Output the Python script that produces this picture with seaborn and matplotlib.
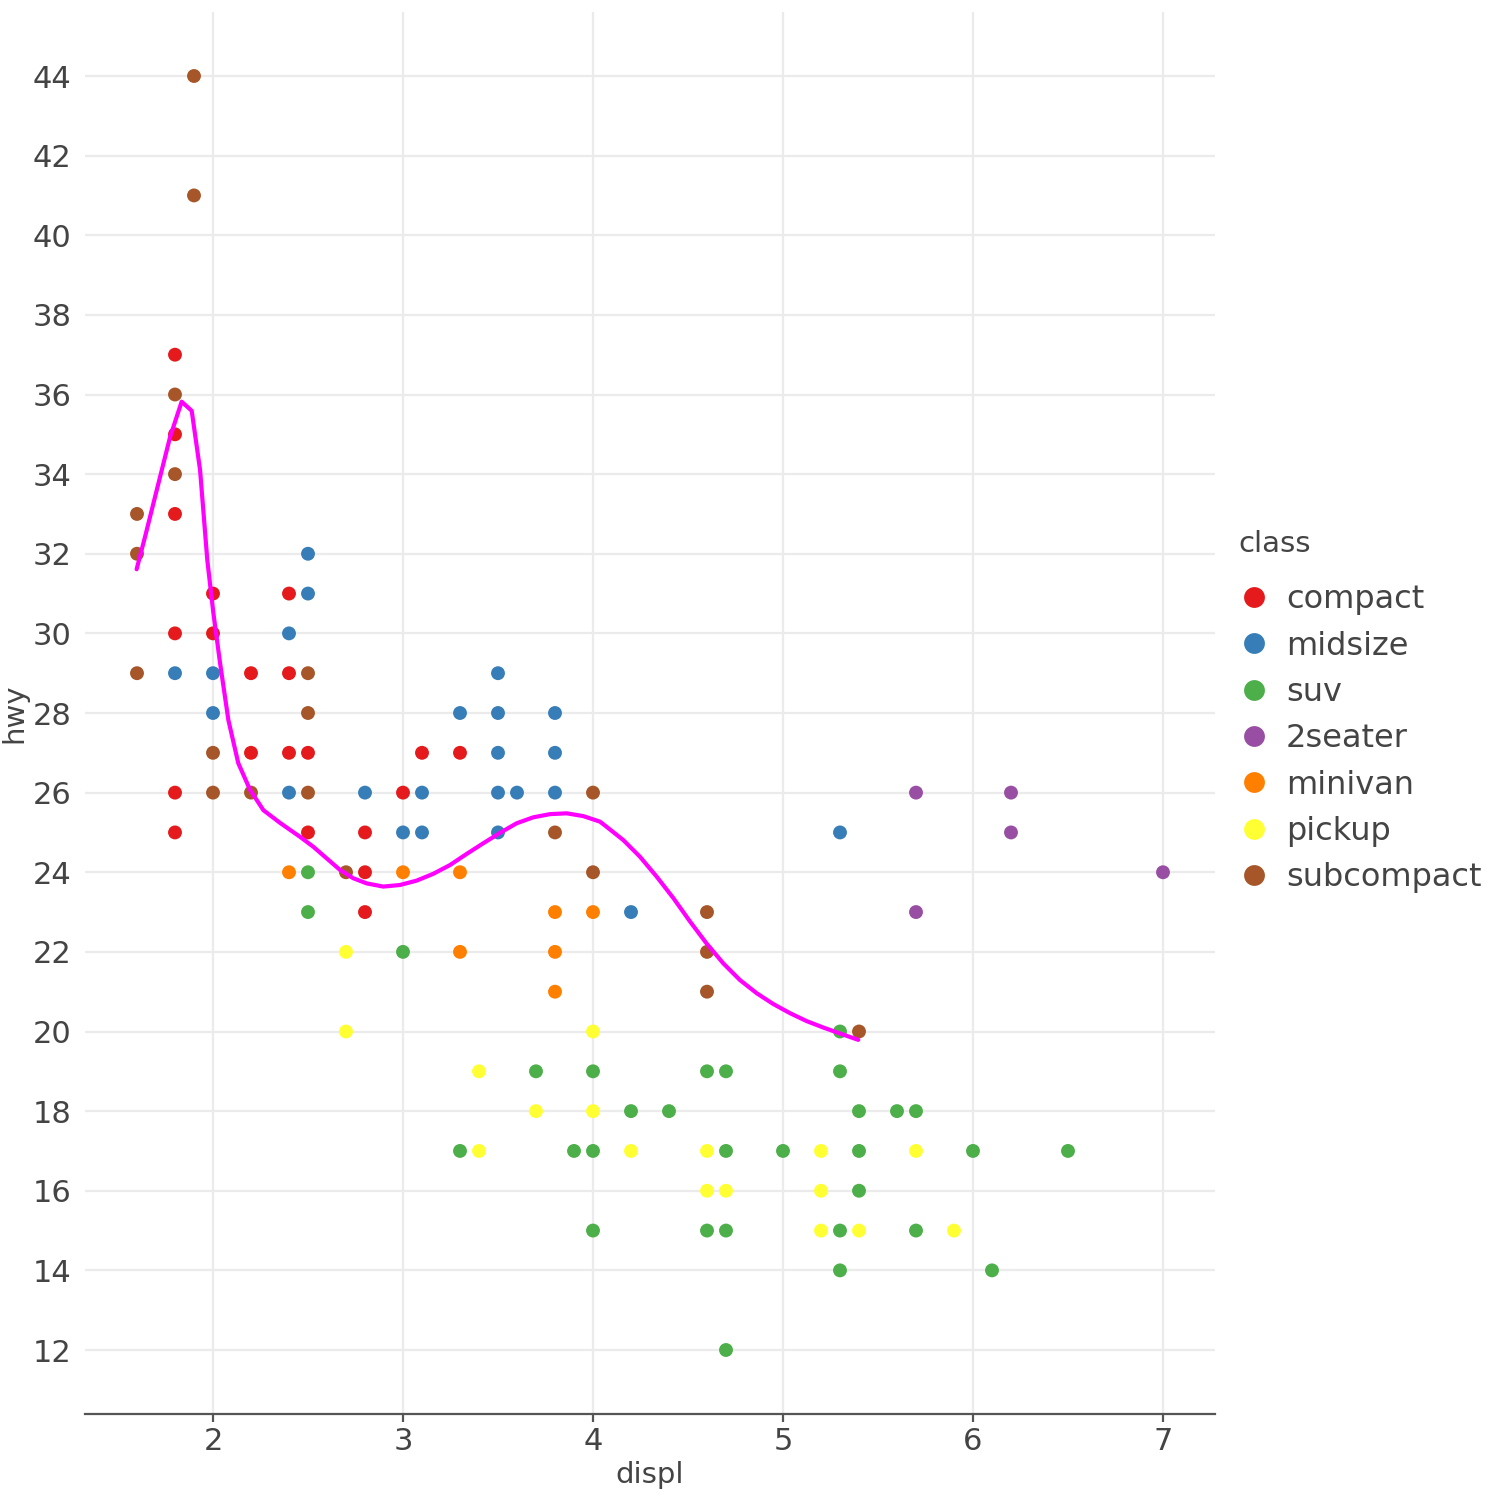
import numpy as np
import pandas as pd
import matplotlib
matplotlib.use("Agg")
import matplotlib.pyplot as plt
import seaborn as sns

# points, one list per class (displ, hwy)
compact = [(1.8, 37), (1.8, 35), (1.8, 33), (1.8, 30), (1.8, 26), (1.8, 25),
           (2.0, 31), (2.0, 30), (2.2, 29), (2.2, 27), (2.4, 31), (2.4, 29),
           (2.4, 27), (2.5, 27), (2.5, 25), (2.8, 25), (2.8, 24), (2.8, 23),
           (3.0, 26), (3.1, 27), (3.3, 27)]
midsize = [(1.8, 29), (2.0, 29), (2.0, 28), (2.4, 30), (2.4, 26), (2.5, 32),
           (2.5, 31), (2.8, 26), (3.0, 25), (3.1, 26), (3.1, 25), (3.3, 28),
           (3.5, 29), (3.5, 28), (3.5, 27), (3.5, 26), (3.5, 25), (3.6, 26),
           (3.8, 28), (3.8, 27), (3.8, 26), (4.2, 23), (5.3, 25)]
suv = [(2.5, 24), (2.5, 23), (3.0, 22), (3.3, 17), (3.7, 19), (3.9, 17),
       (4.0, 19), (4.0, 17), (4.0, 15), (4.2, 18), (4.4, 18), (4.6, 19),
       (4.6, 15), (4.7, 19), (4.7, 17), (4.7, 15), (4.7, 12), (5.0, 17),
       (5.3, 20), (5.3, 19), (5.3, 15), (5.3, 14), (5.4, 18), (5.4, 17),
       (5.4, 16), (5.6, 18), (5.7, 18), (5.7, 15), (6.0, 17), (6.1, 14),
       (6.5, 17)]
two_seater = [(5.7, 26), (5.7, 23), (6.2, 26), (6.2, 25), (7.0, 24)]
minivan = [(2.4, 24), (3.0, 24), (3.3, 24), (3.3, 22), (3.8, 23), (3.8, 22),
           (3.8, 21), (4.0, 23)]
pickup = [(2.7, 22), (2.7, 20), (3.4, 19), (3.4, 17), (3.7, 18), (4.0, 20),
          (4.0, 18), (4.2, 17), (4.6, 17), (4.6, 16), (4.7, 16), (5.2, 17),
          (5.2, 16), (5.2, 15), (5.4, 15), (5.7, 17), (5.9, 15)]
subcompact = [(1.6, 33), (1.6, 32), (1.6, 29), (1.8, 36), (1.8, 34), (1.9, 44),
              (1.9, 41), (2.0, 27), (2.0, 26), (2.2, 26), (2.5, 29), (2.5, 28),
              (2.5, 26), (2.7, 24), (3.8, 25), (4.0, 26), (4.0, 24), (4.6, 23),
              (4.6, 22), (4.6, 21), (5.4, 20)]

classes = ["compact", "midsize", "suv", "2seater", "minivan", "pickup", "subcompact"]
class_points = [compact, midsize, suv, two_seater, minivan, pickup, subcompact]
colors = ["#E41A1C", "#377EB8", "#4DAF4A", "#984EA3", "#FF7F00", "#FFFF33", "#A65628"]

# smooth curve (subcompact loess)
smooth_x = [1.598, 1.642, 1.704, 1.774, 1.835, 1.888, 1.932, 1.970, 2.002, 2.037,
            2.081, 2.133, 2.195, 2.265, 2.353, 2.458, 2.528, 2.598, 2.668, 2.738,
            2.809, 2.896, 2.984, 3.072, 3.159, 3.247, 3.335, 3.423, 3.511, 3.598,
            3.686, 3.774, 3.862, 3.949, 4.037, 4.072, 4.159, 4.247, 4.335, 4.423,
            4.511, 4.598, 4.686, 4.774, 4.862, 4.949, 5.037, 5.125, 5.212, 5.300,
            5.396]
smooth_y = [31.61, 32.42, 33.60, 34.93, 35.82, 35.59, 34.10, 31.84, 30.51, 29.26,
            27.82, 26.74, 26.07, 25.56, 25.24, 24.89, 24.64, 24.35, 24.06, 23.85,
            23.72, 23.64, 23.68, 23.79, 23.96, 24.18, 24.46, 24.73, 24.99, 25.23,
            25.38, 25.46, 25.48, 25.41, 25.27, 25.14, 24.81, 24.39, 23.89, 23.35,
            22.76, 22.21, 21.71, 21.29, 20.96, 20.69, 20.46, 20.26, 20.10, 19.95,
            19.79]

rows = []
for cls, pts in zip(classes, class_points):
    for d, h in pts:
        rows.append({"displ": d, "hwy": h, "class": cls})
df = pd.DataFrame(rows)

sns.set_theme(style="white")
plt.rcParams["font.family"] = ["DejaVu Sans"]
text_col = "#444444"

fig = plt.figure(figsize=(15, 15), dpi=100)
ax = fig.add_axes([85 / 1500, 86 / 1500, 1130 / 1500, 1402 / 1500])

sns.scatterplot(data=df, x="displ", y="hwy", hue="class", hue_order=classes,
                palette=colors, s=100, linewidth=0, ax=ax, zorder=3)
sns.lineplot(x=smooth_x, y=smooth_y, color="#FF00FF", linewidth=3,
             sort=False, ax=ax, zorder=4)

ax.set_xlim(2 - 128 / 190, 7 + 52 / 190)
ax.set_ylim(12 - 64 / 39.8125, 44 + 64 / 39.8125)
ax.set_xticks(range(2, 8))
ax.set_yticks(range(12, 45, 2))
ax.grid(True, color="#EBEBEB", linewidth=1.6)
ax.set_axisbelow(True)
for side in ["left", "right", "top"]:
    ax.spines[side].set_visible(False)
ax.spines["bottom"].set_color("#555555")
ax.spines["bottom"].set_linewidth(1.6)
ax.tick_params(axis="x", bottom=True, length=6, width=1.6, color="#555555",
               labelsize=22, labelcolor=text_col, pad=3)
ax.tick_params(axis="y", left=False, labelsize=22, labelcolor=text_col, pad=3.6)
ax.set_xlabel("displ", fontsize=21, color=text_col, labelpad=4)
ax.set_ylabel("hwy", fontsize=21, color=text_col)
ax.yaxis.set_label_coords(-0.05, 0.5)

handles, labels = ax.get_legend_handles_labels()
ax.get_legend().remove()
leg = ax.legend(handles[:len(classes)], labels[:len(classes)], title="class",
                loc="center left", bbox_to_anchor=(1.009, 0.501), frameon=False,
                fontsize=23, title_fontsize=21, markerscale=1.5,
                labelspacing=0.48, handlelength=1.0, handletextpad=0.5,
                borderaxespad=0)
leg._legend_box.align = "left"
leg._legend_box.sep = 19
for t in leg.get_texts():
    t.set_color(text_col)
leg.get_title().set_color(text_col)

fig.savefig("out.png", dpi=100)
